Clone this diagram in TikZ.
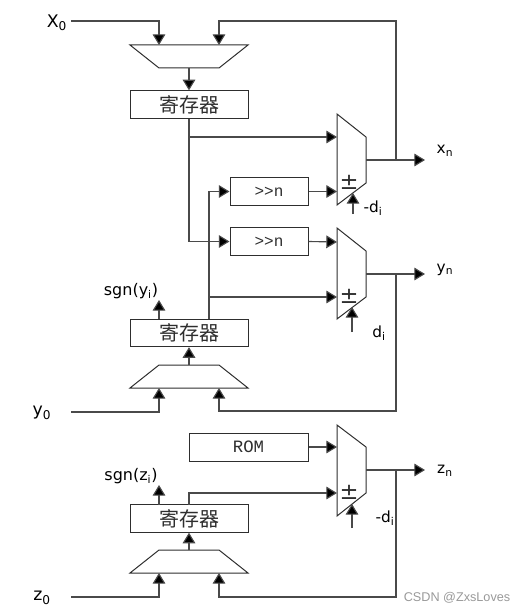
\documentclass[tikz,border=0pt]{standalone}
\usepackage{fontspec}
\setmainfont{DejaVu Sans}
\newfontfamily\cjkfont{Noto Sans CJK SC}
\newfontfamily\monofont{Liberation Mono}
\newfontfamily\wmfont{Liberation Sans}
\usetikzlibrary{arrows.meta}
\definecolor{ink}{HTML}{2E2E2E}
\definecolor{wire}{HTML}{4A4A4A}
\tikzset{
  wireline/.style={draw=wire,line width=0.85pt},
  arrowline/.style={wireline,-{Triangle[length=8pt,width=9.5pt,fill=black]}},
  shapeline/.style={draw=ink,line width=0.75pt},
  regbox/.style={shapeline,minimum width=88.5pt,minimum height=20.5pt,inner sep=0pt,font=\cjkfont\fontsize{15}{16}\selectfont,text=ink},
  shiftbox/.style={shapeline,minimum width=58.5pt,minimum height=20.5pt,inner sep=0pt,font=\monofont\fontsize{12}{13}\selectfont,text=ink},
  rombox/.style={shapeline,minimum width=89.25pt,minimum height=21pt,inner sep=0pt,font=\monofont\fontsize{13}{14}\selectfont,text=ink},
  lab/.style={inner sep=0pt,font=\fontsize{11.5}{12}\selectfont,text=black},
  sublab/.style={inner sep=0pt,font=\fontsize{12}{13}\selectfont,text=black},
  pm/.style={inner sep=0pt,font=\fontsize{17}{18}\selectfont,text=ink},
  wm/.style={inner sep=0pt,font=\wmfont\fontsize{9.5}{10}\selectfont,text=gray!80},
}
\begin{document}
\begin{tikzpicture}[x=0.75pt,y=-0.75pt]
\useasboundingbox (0,0) rectangle (526,613);
% registers
\node[regbox] (r1) at (189,104.5) {寄存器};
\node[regbox] (r2) at (189,333) {寄存器};
\node[regbox] (r3) at (189,518.5) {寄存器};
% shift boxes and ROM
\node[shiftbox] (s1) at (269,191.5) {>{}>n};
\node[shiftbox] (s2) at (269,241.5) {>{}>n};
\node[rombox] (rom) at (248.5,447) {ROM};
% input muxes
\draw[shapeline] (130,45) -- (248,45) -- (219,68) -- (159,68) -- cycle;
\draw[shapeline] (130,388) -- (248,388) -- (219,365) -- (159,365) -- cycle;
\draw[shapeline] (130,573) -- (248,573) -- (219,550) -- (159,550) -- cycle;
% adders
\draw[shapeline] (337,114) -- (366,137) -- (366,183) -- (337,205) -- cycle;
\draw[shapeline] (337,228) -- (366,251) -- (366,297) -- (337,319) -- cycle;
\draw[shapeline] (337,425) -- (366,447) -- (366,493) -- (337,516) -- cycle;
\node[pm] (p1) at (349,182) {±};
\node[pm] (p2) at (349,296) {±};
\node[pm] (p3) at (349,492) {±};
% named points
\coordinate (m1top) at (189,68);
\coordinate (m2top) at (189,365);
\coordinate (m3top) at (189,550);
\coordinate (a1x) at (337,137); \coordinate (a1o) at (366,160); \coordinate (a1e) at (425,160);
\coordinate (a2x) at (337,242); \coordinate (a2o) at (366,274); \coordinate (a2e) at (425,274);
\coordinate (a3x) at (337,447); \coordinate (a3o) at (366,470); \coordinate (a3e) at (425,470);
\coordinate (x0e) at (71,21); \coordinate (y0e) at (71,412); \coordinate (z0e) at (71,597);
% labels
\node[lab,font=\fontsize{13}{14}\selectfont] (lx0) at (57,23) {X\textsubscript{0}};
\node[lab,font=\fontsize{13}{14}\selectfont] (ly0) at (42,413) {y\textsubscript{0}};
\node[lab,font=\fontsize{13}{14}\selectfont] (lz0) at (42,598) {z\textsubscript{0}};
\node[lab] (lxn) at (445,151) {x\textsubscript{n}};
\node[lab] (lyn) at (445,270) {y\textsubscript{n}};
\node[lab] (lzn) at (445,471) {z\textsubscript{n}};
\node[sublab] (sy) at (131,291) {sgn(y\textsubscript{i})};
\node[sublab] (sz) at (131,476) {sgn(z\textsubscript{i})};
\node[lab] (d1) at (373,208) {-d\textsubscript{i}};
\node[lab] (d2) at (379,333) {d\textsubscript{i}};
\node[lab] (d3) at (385,518) {-d\textsubscript{i}};
\node[wm] (wm) at (457,598) {CSDN @ZxsLoves};
% mux inputs
\draw[arrowline] (x0e) -- (159,21) -- (159,45);
\draw[arrowline] (396,160) -- (396,21) -- (219,21) -- (219,45);
\draw[arrowline] (y0e) -- (159,412) -- (159,388);
\draw[arrowline] (396,274) -- (396,411) -- (219,411) -- (219,388);
\draw[arrowline] (z0e) -- (159,597) -- (159,573);
\draw[arrowline] (396,470) -- (396,597) -- (219,597) -- (219,573);
% mux to register
\draw[arrowline] (m1top) -- (r1.north);
\draw[arrowline] (m2top) -- (r2.south);
\draw[arrowline] (m3top) -- (r3.south);
% register 1 outputs
\draw[arrowline] (r1.south) -- (189,241.5) -- (s2.west);
\draw[arrowline] (189,137) -- (a1x);
% register 2 outputs
\draw[arrowline] (209,319) -- (209,191.5) -- (s1.west);
\draw[arrowline] (209,297) -- (337,297);
\draw[arrowline] (159,319) -- (159,300);
% register 3 outputs
\draw[arrowline] (189,505) -- (189,493) -- (337,493);
\draw[arrowline] (159,505) -- (159,485);
\draw[arrowline] (rom.east) -- (a3x);
% shift to adder
\draw[arrowline] (s1.east) -- (337,191.5);
\draw[arrowline] (s2.east) -- (a2x);
% adder outputs
\draw[arrowline] (a1o) -- (a1e);
\draw[arrowline] (a2o) -- (a2e);
\draw[arrowline] (a3o) -- (a3e);
% control arrows
\draw[arrowline] (353,214) -- (353,193);
\draw[arrowline] (352,332) -- (352,307);
\draw[arrowline] (352,528) -- (352,504);
\end{tikzpicture}
\end{document}
